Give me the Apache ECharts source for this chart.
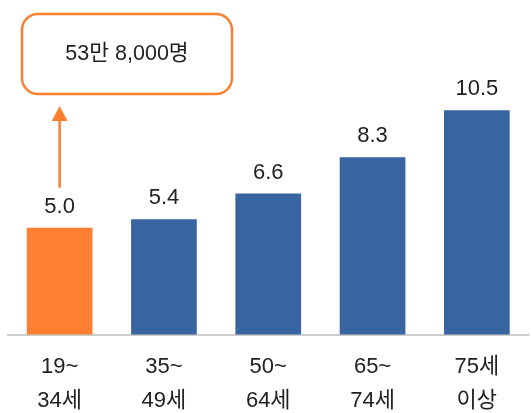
<!DOCTYPE html>
<html><head><meta charset="utf-8">
<script src="https://cdn.jsdelivr.net/npm/echarts@6/dist/echarts.min.js"></script>
<style>html,body{margin:0;padding:0;background:#fff}#c{width:531px;height:413px}</style>
</head><body><div id="c"></div>
<script>
const categories = ['19~\n34세', '35~\n49세', '50~\n64세', '65~\n74세', '75세\n이상'];
const values = [5.0, 5.4, 6.6, 8.3, 10.5];
const calloutText = '53만 8,000명';
const ORANGE = '#FD7F31', BLUE = '#3865A2';
const FONT = '"Liberation Sans", "Noto Sans CJK KR", sans-serif';

const chart = echarts.init(document.getElementById('c'));
chart.setOption({
  animation: false,
  grid: { left: 7.5, right: 2, top: 78.3, bottom: 78.5, containLabel: false, outerBoundsMode: 'none' },
  xAxis: {
    type: 'category', data: categories,
    axisLine: { show: true, lineStyle: { color: '#BDBDBD', width: 1.5 } },
    axisTick: { show: false },
    axisLabel: { color: '#222', fontSize: 22, fontFamily: FONT, lineHeight: 34, margin: 15 }
  },
  yAxis: { type: 'value', min: 0, max: 12, show: false, splitLine: { show: false } },
  series: [{
    type: 'bar', data: values.map((v, i) => ({ value: v, itemStyle: { color: i === 0 ? ORANGE : BLUE } })),
    barCategoryGap: '37%',
    label: { show: true, position: 'top', distance: 10, color: '#222', fontSize: 22, fontFamily: FONT,
      formatter: p => p.value.toFixed(1) }
  }]
});

const x0 = chart.convertToPixel({ xAxisIndex: 0 }, 0);
const yTop = chart.convertToPixel({ yAxisIndex: 0 }, values[0]);
chart.setOption({
  graphic: [
    { type: 'rect', shape: { x: 22, y: 14, width: 210, height: 80, r: 16 },
      style: { fill: '#fff', stroke: ORANGE, lineWidth: 2.5 } },
    { type: 'text', x: 127, y: 54, style: { text: calloutText, fill: '#222', fontSize: 21.5, fontFamily: FONT,
      align: 'center', verticalAlign: 'middle' } },
    { type: 'line', shape: { x1: x0, y1: yTop - 40, x2: x0, y2: 118 }, style: { stroke: ORANGE, lineWidth: 2.5 } },
    { type: 'polygon', shape: { points: [[x0, 106], [x0 - 8, 121], [x0 + 8, 121]] }, style: { fill: ORANGE } }
  ]
});
</script></body></html>
